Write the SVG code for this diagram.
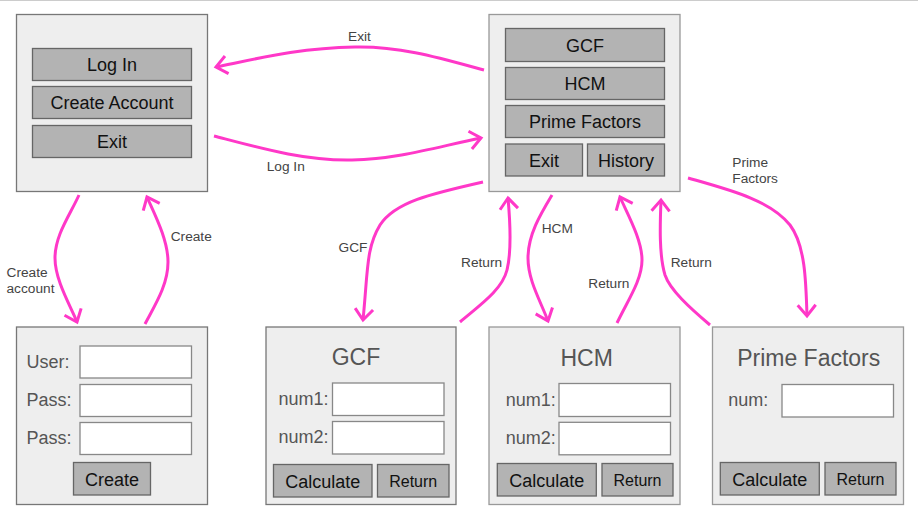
<svg xmlns="http://www.w3.org/2000/svg" width="918" height="520" viewBox="0 0 918 520">
<style>
text{font-family:"Liberation Sans",Arial,sans-serif}
.node{fill:#eeeeee;stroke:#777;stroke-width:1.3}
.nodel{fill:#eeeeee;stroke:#999;stroke-width:1.3}
.btn{fill:#b3b3b3;stroke:#666;stroke-width:1.3}
.inp{fill:#ffffff;stroke:#888;stroke-width:1.3}
.bt{font-size:18px;fill:#111;text-anchor:middle}
.bs{font-size:16px;fill:#111;text-anchor:middle}
.lab{font-size:18px;fill:#555}
.title{font-size:23px;fill:#555;text-anchor:middle}
.el{font-size:13.7px;fill:#444}
.con{fill:none;stroke:#ff38c8;stroke-width:3;marker-end:url(#arr)}
</style>
<defs>
<marker id="arr" markerUnits="userSpaceOnUse" viewBox="-16 -16 32 32" markerWidth="32" markerHeight="32" refX="0" refY="0" orient="auto">
<path d="M-11,-9 L0,0 L-11,9" fill="none" stroke="#ff38c8" stroke-width="3"/>
</marker>
</defs>
<rect width="918" height="520" fill="#ffffff"/>
<line x1="0" y1="0.5" x2="918" y2="0.5" stroke="#cccccc"/>

<g id="login">
<rect class="node" x="16.5" y="14.5" width="191" height="177"/>
<rect class="btn" x="32.5" y="48.5" width="159" height="32"/>
<text class="bt" x="112" y="71">Log In</text>
<rect class="btn" x="32.5" y="86.5" width="159" height="32"/>
<text class="bt" x="112" y="109">Create Account</text>
<rect class="btn" x="32.5" y="125.5" width="159" height="32"/>
<text class="bt" x="112" y="148">Exit</text>
</g>

<g id="menu">
<rect class="nodel" x="489" y="14.5" width="191" height="177"/>
<rect class="btn" x="505.5" y="28.5" width="159" height="33"/>
<text class="bt" x="585" y="51.5">GCF</text>
<rect class="btn" x="505.5" y="67.5" width="159" height="32"/>
<text class="bt" x="585" y="90">HCM</text>
<rect class="btn" x="505.5" y="105.5" width="159" height="32"/>
<text class="bt" x="585" y="128">Prime Factors</text>
<rect class="btn" x="505.5" y="144" width="77" height="32"/>
<text class="bt" x="544" y="167">Exit</text>
<rect class="btn" x="587.5" y="144" width="77" height="32"/>
<text class="bt" x="626" y="167">History</text>
</g>

<g id="create">
<rect class="node" x="16.5" y="327" width="191" height="177.5"/>
<text class="lab" x="26.5" y="368">User:</text>
<rect class="inp" x="80" y="346" width="111.5" height="32"/>
<text class="lab" x="26.5" y="406">Pass:</text>
<rect class="inp" x="80" y="384.5" width="111.5" height="32"/>
<text class="lab" x="26.5" y="444">Pass:</text>
<rect class="inp" x="80" y="422.5" width="111.5" height="32"/>
<rect class="btn" x="73.5" y="462.5" width="77" height="32.5"/>
<text class="bt" x="112" y="485.5">Create</text>
</g>

<g id="gcf">
<rect class="node" x="266" y="327" width="190" height="177.5"/>
<text class="title" x="356" y="365">GCF</text>
<text class="lab" x="278.5" y="405">num1:</text>
<rect class="inp" x="332.5" y="383" width="111.5" height="32.5"/>
<text class="lab" x="278.5" y="443">num2:</text>
<rect class="inp" x="332.5" y="421.5" width="111.5" height="32.5"/>
<rect class="btn" x="273.5" y="464.5" width="98.5" height="32.5"/>
<text class="bt" x="322.8" y="487.5">Calculate</text>
<rect class="btn" x="377.5" y="464.5" width="71.5" height="32.5"/>
<text class="bs" x="413.2" y="486.5">Return</text>
</g>

<g id="hcm">
<rect class="nodel" x="489" y="327" width="191" height="177.5"/>
<text class="title" x="586.7" y="366">HCM</text>
<text class="lab" x="505.7" y="406">num1:</text>
<rect class="inp" x="559" y="383.5" width="111.5" height="33"/>
<text class="lab" x="505.7" y="444">num2:</text>
<rect class="inp" x="559" y="422.3" width="111.5" height="32.5"/>
<rect class="btn" x="497.3" y="463.5" width="99" height="32.5"/>
<text class="bt" x="546.8" y="486.5">Calculate</text>
<rect class="btn" x="602" y="463.5" width="71" height="32.5"/>
<text class="bs" x="637.5" y="485.5">Return</text>
</g>

<g id="prime">
<rect class="nodel" x="712.5" y="327" width="191" height="177.5"/>
<text class="title" x="808.7" y="366">Prime Factors</text>
<text class="lab" x="728.3" y="406">num:</text>
<rect class="inp" x="782" y="384.5" width="111.5" height="32.5"/>
<rect class="btn" x="720.3" y="462.5" width="99" height="32.5"/>
<text class="bt" x="769.8" y="485.5">Calculate</text>
<rect class="btn" x="825" y="462.5" width="71" height="32.5"/>
<text class="bs" x="860.5" y="484.5">Return</text>
</g>

<g id="connectors">
<path class="con" d="M484,70 C440,58 400,46 355,47 C300,48 260,58 216,67"/>
<path class="con" d="M214,136 C260,148 305,161 352,160 C400,159 440,146 481,138"/>
<path class="con" d="M79,195 C70,215 55,235 55,258 C55,280 70,305 77,322"/>
<path class="con" d="M145,324 C155,305 168,285 168,262 C168,240 155,215 147,197"/>
<path class="con" d="M483,182 C430,194 395,202 380,225 C366,248 368,270 363,320"/>
<path class="con" d="M460,322 C480,305 502,290 507,270 C512,250 510,220 508,198"/>
<path class="con" d="M552,195 C540,215 528,235 528,258 C528,280 540,300 548,321"/>
<path class="con" d="M617,323 C628,300 642,280 642,260 C642,240 628,215 620,197"/>
<path class="con" d="M710,325 C690,308 670,290 665,275 C659,255 660,225 661,200"/>
<path class="con" d="M688,178 C730,190 770,200 790,225 C805,245 806,280 807,316"/>
<text class="el" x="348" y="40.5">Exit</text>
<text class="el" x="266.7" y="170.7">Log In</text>
<text class="el" x="6.5" y="276.7">Create</text>
<text class="el" x="6.5" y="293.3">account</text>
<text class="el" x="170.7" y="240.5">Create</text>
<text class="el" x="338.5" y="252.3">GCF</text>
<text class="el" x="461" y="266.7">Return</text>
<text class="el" x="541.7" y="233">HCM</text>
<text class="el" x="588.3" y="287.5">Return</text>
<text class="el" x="670.7" y="266.7">Return</text>
<text class="el" x="732.3" y="166.7">Prime</text>
<text class="el" x="732.3" y="183.3">Factors</text>
</g>
</svg>
